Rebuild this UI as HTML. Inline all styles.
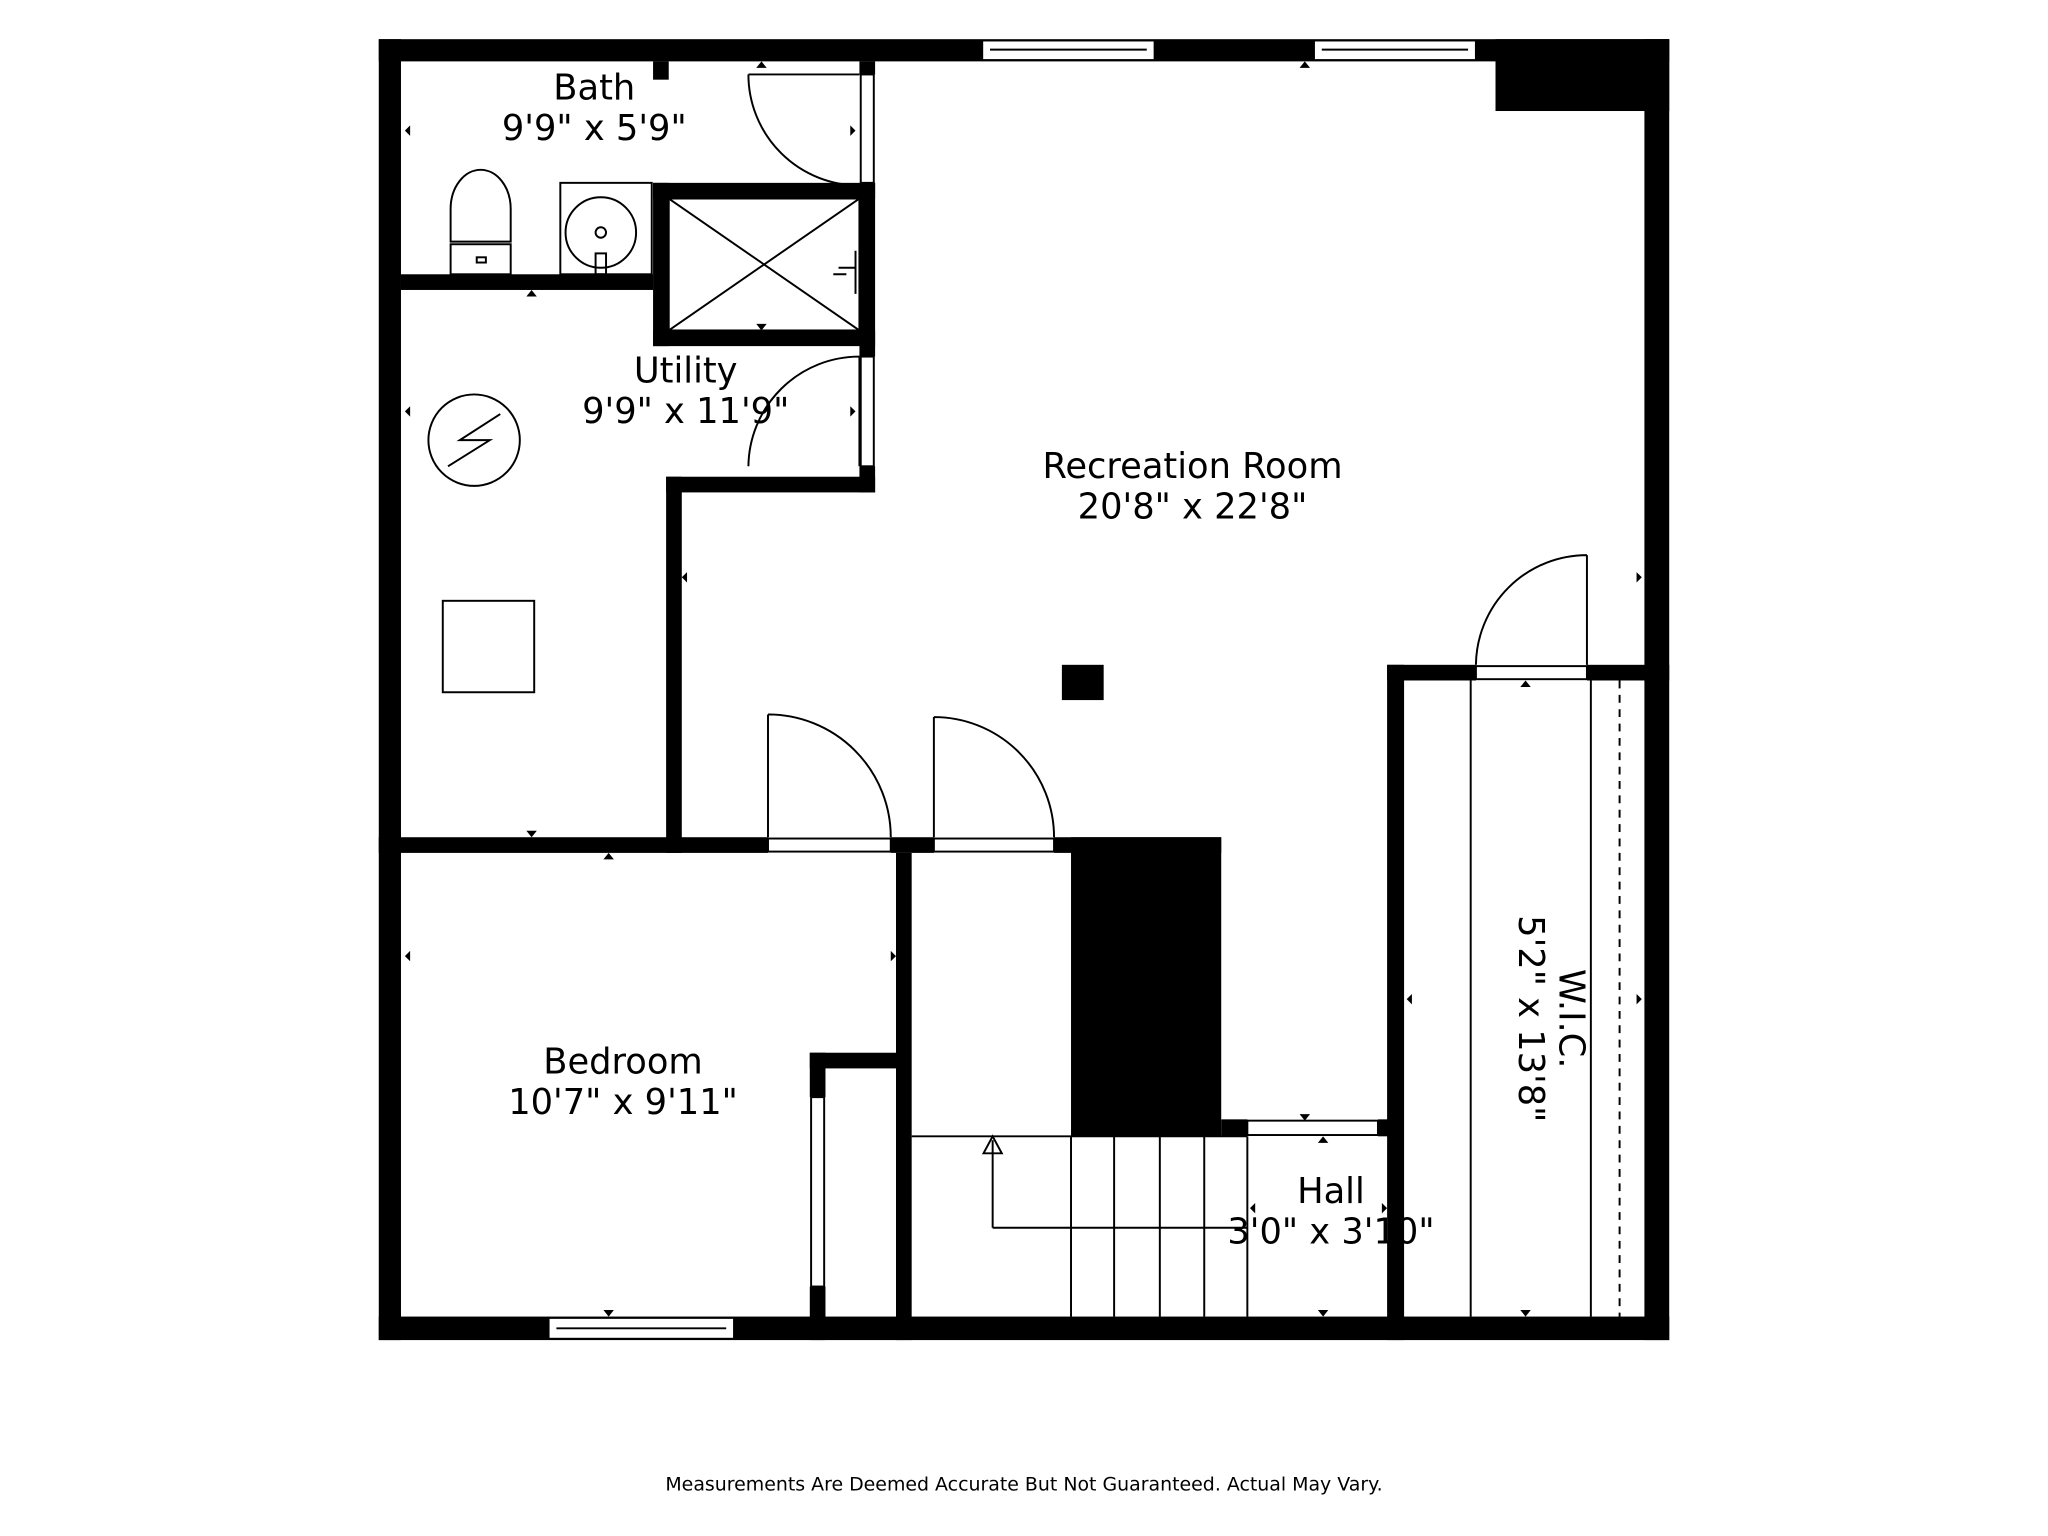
<!DOCTYPE html>
<html><head><meta charset="utf-8"><style>html,body{margin:0;padding:0;background:#fff}svg{display:block}</style></head><body>
<svg width="2048" height="1536" viewBox="0 0 1568 1176" xmlns="http://www.w3.org/2000/svg" font-family="DejaVu Sans, Liberation Sans, sans-serif">
<rect width="1568" height="1176" fill="#fff"/>
<g fill="#000">
<rect x="290" y="30" width="988" height="17"/>
<rect x="290" y="30" width="17" height="996"/>
<rect x="290" y="1008" width="988" height="18"/>
<rect x="1259" y="30" width="19" height="996"/>
<rect x="1145" y="30" width="133" height="55"/>
<rect x="500" y="47" width="12" height="14"/>
<rect x="307" y="210" width="193" height="12"/>
<rect x="500" y="140" width="170" height="12"/>
<rect x="500" y="140" width="12" height="125"/>
<rect x="500" y="253" width="170" height="12"/>
<rect x="658" y="47" width="12" height="10"/>
<rect x="658" y="140" width="12" height="133"/>
<rect x="658" y="357" width="12" height="20"/>
<rect x="510" y="365" width="160" height="12"/>
<rect x="510" y="365" width="12" height="288"/>
<rect x="290" y="641" width="298" height="12"/>
<rect x="682" y="641" width="33" height="12"/>
<rect x="807" y="641" width="128" height="12"/>
<rect x="820" y="641" width="115" height="229"/>
<rect x="686" y="653" width="12" height="373"/>
<rect x="620" y="806" width="12" height="34"/>
<rect x="620" y="985" width="12" height="41"/>
<rect x="620" y="806" width="66" height="12"/>
<rect x="935" y="857" width="20" height="13"/>
<rect x="1055" y="857" width="10" height="13"/>
<rect x="1062" y="509" width="13" height="517"/>
<rect x="1062" y="509" width="68" height="12"/>
<rect x="1215" y="509" width="63" height="12"/>
<rect x="813" y="509" width="32" height="27"/>
</g>
<g fill="#fff" stroke="#000" stroke-width="1.5">
<rect x="752" y="31" width="132" height="15"/><line x1="758" y1="38" x2="878" y2="38"/>
<rect x="1006" y="31" width="124" height="15"/><line x1="1012" y1="38" x2="1124" y2="38"/>
<rect x="420" y="1009" width="142" height="16"/><line x1="426" y1="1017" x2="556" y2="1017"/>
<rect x="659" y="57" width="10" height="83"/>
<rect x="659" y="273" width="10" height="84"/>
<rect x="588" y="642" width="94" height="10"/>
<rect x="715" y="642" width="92" height="10"/>
<rect x="621" y="840" width="10" height="145"/>
<rect x="955" y="858" width="100" height="11"/>
<rect x="1130" y="510" width="85" height="10"/>
</g>
<g fill="none" stroke="#000" stroke-width="1.5">
<path d="M573 57 L658 57 M573 57 A85 85 0 0 0 658 142"/>
<path d="M658 273 L658 357 M573 357 A85 85 0 0 1 658 273"/>
<path d="M588 547 L588 641 M588 547 A94 94 0 0 1 682 641"/>
<path d="M715 549 L715 641 M715 549 A92 92 0 0 1 807 641"/>
<path d="M1215 425 L1215 509 M1130 509 A85 85 0 0 1 1215 425"/>
<path d="M512 152 L658 253 M658 152 L512 253"/>
<rect x="512" y="152" width="146" height="101"/>
<path d="M345 185 L345 160 A23 30 0 0 1 391 160 L391 185 Z"/>
<rect x="345" y="187" width="46" height="23"/>
<rect x="365" y="197" width="7" height="4"/>
<rect x="429" y="140" width="70" height="70"/>
<circle cx="460" cy="178" r="27"/><circle cx="460" cy="178" r="4"/><rect x="456" y="194" width="8" height="16"/>
<circle cx="363" cy="337" r="35"/><path d="M343 357 L375 337 L352 337 L383 317"/>
<rect x="339" y="460" width="70" height="70"/>
<line x1="698" y1="870" x2="955" y2="870"/>
<line x1="820" y1="870" x2="820" y2="1008"/><line x1="853" y1="870" x2="853" y2="1008"/>
<line x1="888" y1="870" x2="888" y2="1008"/><line x1="922" y1="870" x2="922" y2="1008"/>
<line x1="955" y1="870" x2="955" y2="1008"/>
<path d="M760 940 L760 873 M753 883 L760 870 L767 883 Z M760 940 L955 940"/>
<path d="M642 205 L655 205 M655 192 L655 225 M638 210 L648 210" stroke-width="1.5"/>
<line x1="1126" y1="521" x2="1126" y2="1008"/><line x1="1218" y1="521" x2="1218" y2="1008"/>
<line x1="1240" y1="521" x2="1240" y2="1008" stroke-dasharray="6,5"/>
</g>
<g font-size="27" text-anchor="middle" fill="#000">
<text x="455" y="76">Bath</text><text x="455" y="107">9'9" x 5'9"</text>
<text x="525" y="293">Utility</text><text x="525" y="324">9'9" x 11'9"</text>
<text x="913" y="366">Recreation Room</text><text x="913" y="397">20'8" x 22'8"</text>
<text x="477" y="822">Bedroom</text><text x="477" y="853">10'7" x 9'11"</text>
<text x="1019" y="921">Hall</text><text x="1019" y="952">3'0" x 3'10"</text>
<g transform="translate(1185 780) rotate(90)"><text x="0" y="-9">W.I.C.</text><text x="0" y="22">5'2" x 13'8"</text></g>
<text x="784" y="1141" font-size="14.5">Measurements Are Deemed Accurate But Not Guaranteed. Actual May Vary.</text>
</g>
<g fill="#000">
<path d="M310 100 l4 -4 v8z"/><path d="M655 100 l-4 -4 v8z"/><path d="M583 47 l-4 5 h8z"/>
<path d="M407 222 l-4 5 h8z"/><path d="M583 253 l-4 -5 h8z"/>
<path d="M310 315 l4 -4 v8z"/><path d="M655 315 l-4 -4 v8z"/><path d="M407 641 l-4 -5 h8z"/>
<path d="M522 442 l4 -4 v8z"/><path d="M1257 442 l-4 -4 v8z"/><path d="M999 47 l-4 5 h8z"/>
<path d="M466 653 l-4 5 h8z"/><path d="M466 1008 l-4 -5 h8z"/><path d="M310 732 l4 -4 v8z"/><path d="M686 732 l-4 -4 v8z"/>
<path d="M999 858 l-4 -5 h8z"/><path d="M1013 870 l-4 5 h8z"/><path d="M1013 1008 l-4 -5 h8z"/>
<path d="M957 925 l4 -4 v8z"/><path d="M1062 925 l-4 -4 v8z"/>
<path d="M1168 521 l-4 5 h8z"/><path d="M1168 1008 l-4 -5 h8z"/><path d="M1077 765 l4 -4 v8z"/><path d="M1257 765 l-4 -4 v8z"/>
</g>
</svg>
</body></html>
